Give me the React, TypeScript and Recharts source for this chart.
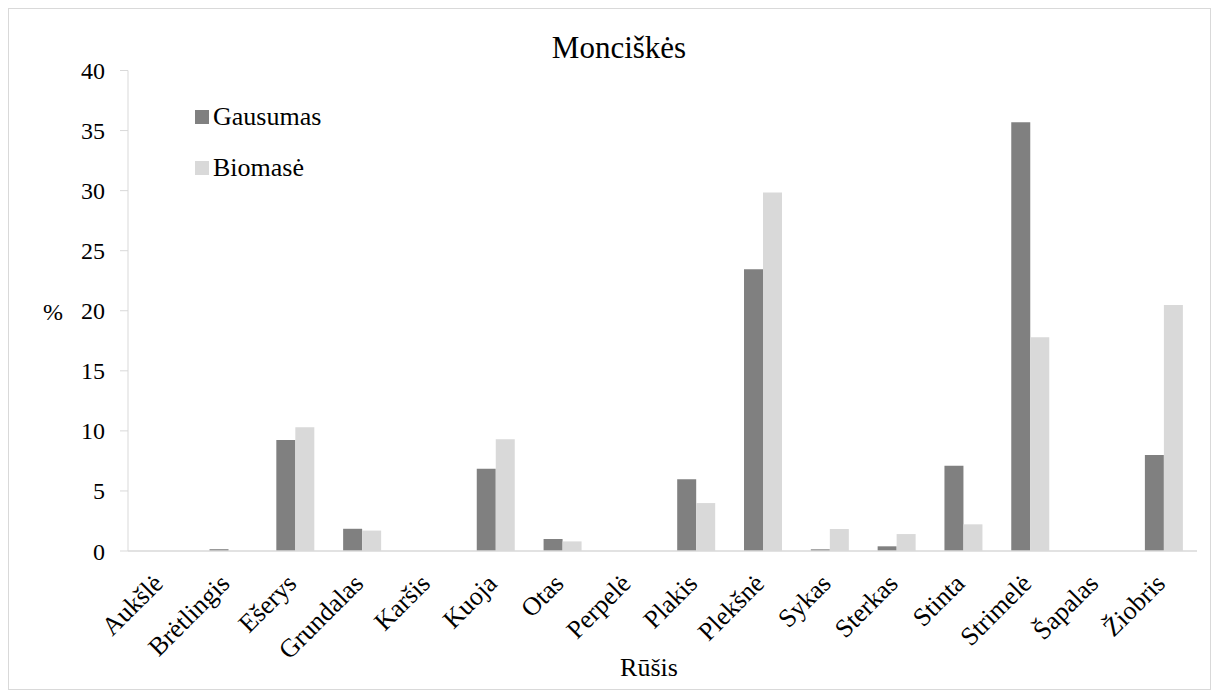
import React from "react";
import { BarChart, Bar, XAxis, YAxis, Legend } from "recharts";

const categories = [
  "Aukšlė", "Brėtlingis", "Ešerys", "Grundalas", "Karšis", "Kuoja", "Otas", "Perpelė",
  "Plakis", "Plekšnė", "Sykas", "Sterkas", "Stinta", "Strimelė", "Šapalas", "Žiobris",
];
const gausumas = [0, 0.15, 9.25, 1.85, 0, 6.85, 1.0, 0, 5.97, 23.45, 0.14, 0.39, 7.1, 35.7, 0, 7.99];
const biomase = [0, 0, 10.3, 1.7, 0, 9.3, 0.8, 0, 3.99, 29.85, 1.83, 1.41, 2.22, 17.8, 0, 20.47];
const yTicks = [0, 5, 10, 15, 20, 25, 30, 35, 40];

const SERIES = [
  { key: "Gausumas", color: "#808080" },
  { key: "Biomasė", color: "#d9d9d9" },
];

const data = categories.map((c, i) => ({ name: c, Gausumas: gausumas[i], "Biomasė": biomase[i] }));

const FONT = "'Liberation Serif', 'DejaVu Serif', serif";

const XTick = (props: any) => {
  const { x, y, payload } = props;
  const ax = x + 3;
  const ay = y + 34;
  return (
    <text
      x={ax}
      y={ay}
      transform={`rotate(-45, ${ax}, ${ay})`}
      textAnchor="end"
      fontSize={26}
      fontFamily={FONT}
      fill="#000"
    >
      {payload.value}
    </text>
  );
};

const LegendContent = () => (
  <div style={{ fontFamily: FONT, fontSize: 26, color: "#000" }}>
    {SERIES.map((s, i) => (
      <div key={s.key} style={{ position: "absolute", left: 0, top: i * 51, height: 30, whiteSpace: "nowrap", lineHeight: 1 }}>
        <span style={{ position: "absolute", left: 0, top: 6, width: 14, height: 14, background: s.color }} />
        <span style={{ position: "absolute", left: 18, top: 0 }}>{s.key}</span>
      </div>
    ))}
  </div>
);

export default function App() {
  return (
    <div
      style={{
        position: "relative",
        width: 1201,
        height: 680,
        border: "1px solid #d9d9d9",
        background: "#fff",
        fontFamily: FONT,
      }}
    >
      <div
        style={{
          position: "absolute",
          left: 310,
          width: 600,
          top: 23,
          textAlign: "center",
          fontSize: 31,
          lineHeight: 1,
          color: "#000",
        }}
      >
        Monciškės
      </div>
      <div style={{ position: "absolute", left: 34, top: 291, fontSize: 24, lineHeight: 1, color: "#000" }}>%</div>
      <div
        style={{
          position: "absolute",
          left: 540,
          width: 200,
          top: 646,
          textAlign: "center",
          fontSize: 26,
          lineHeight: 1,
          color: "#000",
        }}
      >
        Rūšis
      </div>
      <div style={{ position: "absolute", left: 0, top: 0 }}>
        <BarChart
          width={1201}
          height={680}
          data={data}
          margin={{ top: 61.5, right: 13, bottom: 0, left: 0 }}
          barGap={0}
          barCategoryGap="22%"
        >
          <XAxis
            dataKey="name"
            interval={0}
            height={138}
            tickLine={false}
            tickSize={0}
            tickMargin={0}
            axisLine={{ stroke: "#d9d9d9", strokeWidth: 1.5 }}
            tick={<XTick />}
          />
          <YAxis
            width={119}
            domain={[0, 40]}
            ticks={yTicks}
            interval={0}
            tickSize={8}
            tickMargin={15}
            axisLine={{ stroke: "#d9d9d9" }}
            tickLine={{ stroke: "#d9d9d9" }}
            tick={{ fontSize: 24, fontFamily: FONT, fill: "#000" }}
          />
          <Legend
            layout="vertical"
            align="center"
            verticalAlign="middle"
            content={<LegendContent />}
            wrapperStyle={{ position: "absolute", left: 186, top: 95, width: 200, height: 90 }}
          />
          {SERIES.map((s) => (
            <Bar key={s.key} dataKey={s.key} fill={s.color} isAnimationActive={false} />
          ))}
        </BarChart>
      </div>
    </div>
  );
}
